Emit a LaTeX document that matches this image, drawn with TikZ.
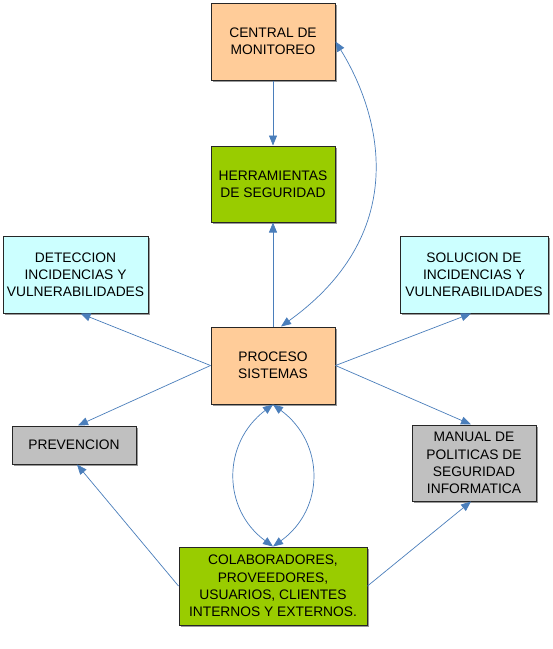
\documentclass[tikz,border=0pt]{standalone}
\usepackage{fontspec}
\setmainfont{Liberation Sans}
\usetikzlibrary{arrows.meta,shadows}
\definecolor{peach}{HTML}{FFCC99}
\definecolor{leaf}{HTML}{99CC00}
\definecolor{icecyan}{HTML}{CCFFFF}
\definecolor{boxgray}{HTML}{C0C0C0}
\definecolor{arrowblue}{HTML}{4A7EBB}
\begin{document}
\begin{tikzpicture}[x=1pt,y=-1pt,
  box/.style={draw=black!85, line width=1pt, align=center, inner sep=0pt,
    font=\fontsize{13.8}{17.2}\selectfont,
    drop shadow={shadow xshift=1.5pt, shadow yshift=-1.5pt, fill=black!40, opacity=1}},
  conn/.style={draw=arrowblue, line width=0.7pt, -{Triangle[length=10pt,width=8pt]}},
  dconn/.style={draw=arrowblue, line width=0.7pt, {Triangle[length=10pt,width=8pt]}-{Triangle[length=10pt,width=8pt]}}
]
\useasboundingbox[fill=white] (0,0) rectangle (553,649);

\node[box, fill=peach, minimum width=124pt, minimum height=77pt] (cm) at (273,41.5) {CENTRAL DE\\MONITOREO};
\node[box, fill=leaf, minimum width=124pt, minimum height=76pt] (hs) at (273,184) {HERRAMIENTAS\\DE SEGURIDAD};
\node[box, fill=icecyan, minimum width=145pt, minimum height=77pt] (det) at (75.5,274.5) {DETECCION\\INCIDENCIAS Y\\VULNERABILIDADES};
\node[box, fill=icecyan, minimum width=148pt, minimum height=77pt] (sol) at (474,274.5) {SOLUCION DE\\INCIDENCIAS Y\\VULNERABILIDADES};
\node[box, fill=peach, minimum width=124pt, minimum height=77pt] (pro) at (273,365.5) {PROCESO\\SISTEMAS};
\node[box, fill=boxgray, minimum width=124pt, minimum height=38pt] (prev) at (74,445) {PREVENCION};
\node[box, fill=boxgray, minimum width=124pt, minimum height=76pt] (man) at (474,463) {MANUAL DE\\POLITICAS DE\\SEGURIDAD\\INFORMATICA};
\node[box, fill=leaf, minimum width=188pt, minimum height=78pt] (col) at (273,586) {COLABORADORES,\\PROVEEDORES,\\USUARIOS, CLIENTES\\INTERNOS Y EXTERNOS.};

\draw[conn] (cm.south) -- (hs.north);
\draw[conn] (pro.north) -- (hs.south);
\draw[dconn] ([xshift=8pt]pro.north) .. controls (415,230) and (378,110) .. (cm.east);
\draw[conn] (pro.west) -- ([xshift=5pt]det.south);
\draw[conn] (pro.west) -- ([xshift=4pt]prev.north);
\draw[conn] (pro.east) -- ([xshift=-3pt]sol.south);
\draw[conn] (pro.east) -- ([xshift=-3pt]man.north);
\draw[conn] (col.west) -- ([xshift=3pt]prev.south);
\draw[conn] (col.east) -- ([xshift=-3pt]man.south);
\draw[dconn] (pro.south) .. controls (222,443) and (222,509) .. (col.north);
\draw[dconn] (pro.south) .. controls (325,443) and (325,509) .. (col.north);
\end{tikzpicture}
\end{document}
